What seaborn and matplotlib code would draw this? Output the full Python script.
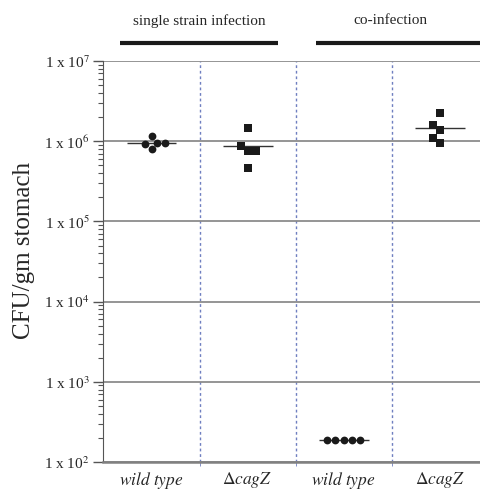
"""CFU per gram of stomach for wild type vs. cagZ mutant, single and co-infection."""
import matplotlib
matplotlib.use("Agg")
import matplotlib.pyplot as plt
import matplotlib.ticker as mticker
import numpy as np
import pandas as pd
import seaborn as sns

# groups in plotting order
groups = ["wt_single", "cagz_single", "wt_co", "cagz_co"]
group_labels = [r"$\mathit{wild\ type}$", r"$\Delta\mathit{cagZ}$",
                r"$\mathit{wild\ type}$", r"$\Delta\mathit{cagZ}$"]
panels = ["single strain infection", "co-infection"]

# CFU/gm stomach, one value per mouse
wt_single = [9.5e5, 9.2e5, 1.16e6, 8.0e5, 9.5e5]
cagz_single = [1.48e6, 7.6e5, 7.6e5, 8.7e5, 4.6e5]
wt_co = [190, 190, 190, 190, 190]
cagz_co = [2.26e6, 1.57e6, 1.36e6, 1.10e6, 9.4e5]

df = pd.DataFrame({
    "group": np.repeat(groups, 5),
    "cfu": wt_single + cagz_single + wt_co + cagz_co,
})

sns.set_style("ticks")
plt.rcParams["font.family"] = ["Liberation Serif", "DejaVu Serif"]
plt.rcParams["mathtext.fontset"] = "stix"

fig = plt.figure(figsize=(4.81, 4.93), dpi=100)
ax = fig.add_axes([103 / 481, 1 - 462 / 493, 378 / 481, 401 / 493])

wt_mask = df["group"].str.startswith("wt")
sns.swarmplot(data=df[wt_mask], x="group", y="cfu", order=groups, marker="o",
              size=5.6, color="#1a1a1a", linewidth=0, log_scale=True, ax=ax)
sns.swarmplot(data=df[~wt_mask], x="group", y="cfu", order=groups, marker="s",
              size=5.8, color="#1a1a1a", linewidth=0, log_scale=True, ax=ax)

# group means as short horizontal bars
means = df.groupby("group")["cfu"].mean().reindex(groups)
xs = np.arange(len(groups))
ax.hlines(means.values, xs - 0.26, xs + 0.26, color="#333333", lw=1.0, zorder=1)

ax.set_yscale("log")
ax.set_ylim(1e2, 1e7)
ax.set_xlim(-0.505, 3.43)

# dotted separators between groups
ax.vlines(xs[:-1] + 0.5, 1e2, 1e7, color="#6f7fc0", lw=1.0,
          linestyle=(0, (2, 2)), zorder=0)
ax.yaxis.grid(True, which="major", color="#8c8c8c", lw=1.3, zorder=0)

ax.yaxis.set_major_locator(mticker.LogLocator(base=10))
ax.yaxis.set_minor_locator(mticker.LogLocator(base=10, subs=np.arange(2, 10)))
ax.yaxis.set_minor_formatter(mticker.NullFormatter())
ax.yaxis.set_major_formatter(
    mticker.FuncFormatter(lambda v, _: f"1 x 10$^{{{int(round(np.log10(v)))}}}$"))
ax.tick_params(axis="y", which="major", length=7, width=1, color="#555555",
               labelsize=11, pad=2.5)
ax.tick_params(axis="y", which="minor", length=3.5, width=0.8, color="#555555")

ax.set_xticks(xs)
ax.set_xticklabels(group_labels, fontsize=12.5)
ax.set_xticks(xs[:-1] + 0.5, minor=True)
ax.tick_params(axis="x", which="major", length=0, pad=6)
ax.tick_params(axis="x", which="minor", length=3, color="#6f7fc0")
ax.set_xlabel("")
ax.set_ylabel("CFU/gm stomach", fontsize=18)
ax.yaxis.set_label_coords(-0.18, 0.528)

sns.despine(ax=ax, top=True, right=True)
ax.spines["left"].set_color("#555555")
ax.spines["bottom"].set_color("#808080")
ax.spines["bottom"].set_linewidth(1.8)

# panel headers with black bars above the axes
trans = ax.get_xaxis_transform()
ax.plot([-0.328, 1.318], [1.0456, 1.0456], color="#1a1a1a", lw=3.0,
        transform=trans, clip_on=False, solid_capstyle="butt")
ax.plot([1.714, 3.43], [1.0456, 1.0456], color="#1a1a1a", lw=3.0,
        transform=trans, clip_on=False, solid_capstyle="butt")
ax.text(0.495, 1.1005, panels[0], transform=trans, ha="center", va="center",
        fontsize=11)
ax.text(2.484, 1.1005, panels[1], transform=trans, ha="center", va="center",
        fontsize=11)

fig.savefig("out.png", dpi=100)
plt.close(fig)
